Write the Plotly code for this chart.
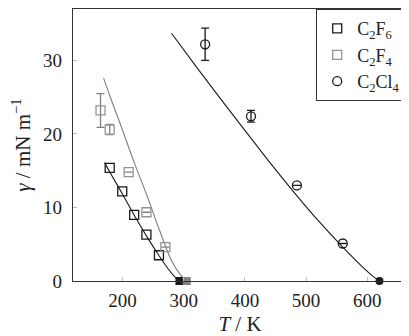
import plotly.graph_objects as go

# measured points
T_c2f6 = [179, 199.5, 219, 239, 259.5]
g_c2f6 = [15.4, 12.2, 9.0, 6.3, 3.5]

T_c2f4 = [164, 179, 210, 239, 270]
g_c2f4 = [23.2, 20.6, 14.8, 9.35, 4.6]
e_c2f4 = [2.3, 0.7, 0, 0, 0]

T_c2cl4 = [335, 410, 485, 560]
g_c2cl4 = [32.2, 22.4, 13.0, 5.1]
e_c2cl4 = [2.2, 0.8, 0, 0]

# critical points
Tc = [293, 305, 620]

# fitted curves
Tfit_c2f6 = [170.6, 180, 200, 220, 240, 260, 275, 285, 293]
gfit_c2f6 = [16.1, 14.7, 11.8, 8.8, 6.0, 3.4, 1.6, 0.6, 0]

Tfit_c2f4 = [169, 180, 200, 220, 240, 260, 280, 295, 305]
gfit_c2f4 = [27.6, 25.0, 20.5, 15.9, 11.6, 7.0, 2.8, 0.8, 0]

Tfit_c2cl4 = [280, 320, 360, 400, 440, 480, 520, 560, 590, 610, 620]
gfit_c2cl4 = [33.7, 29.2, 24.8, 20.5, 16.2, 12.1, 8.2, 4.6, 2.1, 0.6, 0]

BLACK = "#1a1a1a"
GRAY = "#808080"
LGRAY = "#939393"
FONT = "'Liberation Serif', 'Times New Roman', serif"

fig = go.Figure()

# fit lines
for xs, ys, col in [(Tfit_c2f6, gfit_c2f6, BLACK),
                    (Tfit_c2f4, gfit_c2f4, GRAY),
                    (Tfit_c2cl4, gfit_c2cl4, BLACK)]:
    fig.add_trace(go.Scatter(x=xs, y=ys, mode="lines", showlegend=False,
                             line=dict(color=col, width=1.1, shape="spline")))

fig.add_trace(go.Scatter(
    x=T_c2f6, y=g_c2f6, mode="markers", name="C<sub>2</sub>F<sub>6</sub>",
    marker=dict(symbol="square-open", size=9, color=BLACK, line=dict(width=1.3))))
fig.add_trace(go.Scatter(
    x=T_c2f4, y=g_c2f4, mode="markers", name="C<sub>2</sub>F<sub>4</sub>",
    error_y=dict(type="data", array=e_c2f4, color=GRAY, thickness=1.3, width=4),
    marker=dict(symbol="square-open", size=9, color=LGRAY, line=dict(width=1.3))))
fig.add_trace(go.Scatter(
    x=T_c2cl4, y=g_c2cl4, mode="markers", name="C<sub>2</sub>Cl<sub>4</sub>",
    error_y=dict(type="data", array=e_c2cl4, color=BLACK, thickness=1.3, width=4),
    marker=dict(symbol="circle-open", size=9, color=BLACK, line=dict(width=1.3))))

# filled critical points
fig.add_trace(go.Scatter(
    x=Tc, y=[0, 0, 0], mode="markers", showlegend=False, cliponaxis=False,
    marker=dict(symbol=["square", "square", "circle"], size=8,
                color=[BLACK, GRAY, BLACK])))

axis = dict(showgrid=False, zeroline=False, showline=True, linecolor="#333",
            linewidth=1.2, mirror=True, ticks="inside", ticklen=4,
            tickcolor="#c0c0c0", tickfont=dict(size=19, color="#222"),
            automargin=False)

fig.update_xaxes(axis, range=[119, 665], tickvals=[200, 300, 400, 500, 600],
                 ticklabelstandoff=2,
                 title=dict(text="<i>T</i> / K", font=dict(size=21), standoff=7))
fig.update_yaxes(axis, range=[0, 37.0], tickvals=[0, 10, 20, 30],
                 ticklabelstandoff=6,
                 title=dict(text="<i>γ</i> / mN m<sup>−1</sup>", font=dict(size=21),
                            standoff=19))

# page body adds an 8px offset, so the figure is 8px smaller than the window
fig.update_layout(
    width=401, height=328,
    margin=dict(l=65, r=2, t=1, b=55),
    paper_bgcolor="white", plot_bgcolor="white",
    font=dict(family=FONT, size=19, color="#222"),
    legend=dict(x=0.997, y=1.0, xanchor="right", yanchor="top",
                bordercolor="#333", borderwidth=1.2, bgcolor="white",
                font=dict(size=18), itemwidth=30, tracegroupgap=0),
)

fig.write_html("out.html")
